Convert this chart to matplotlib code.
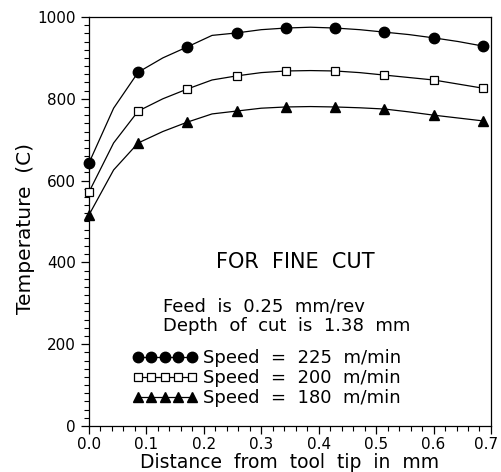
import matplotlib.pyplot as plt
from matplotlib.ticker import MultipleLocator

# marker positions (mm) and temperatures (C)
dist = [0.0, 0.0857, 0.1714, 0.2571, 0.3429, 0.4286, 0.5143, 0.6, 0.6857]
temp_225 = [643, 865, 927, 961, 973, 973, 963, 949, 929]
temp_200 = [572, 770, 824, 856, 868, 868, 858, 846, 826]
temp_180 = [516, 692, 743, 770, 780, 780, 775, 760, 746]

# curve vertices (read at half steps between markers)
dist_line = [0.0, 0.0429, 0.0857, 0.1286, 0.1714, 0.2143, 0.2571, 0.3, 0.3429,
             0.3857, 0.4286, 0.4714, 0.5143, 0.5571, 0.6, 0.6429, 0.6857]
line_225 = [643, 777, 865, 900, 927, 955, 961, 969, 973, 975, 973, 969, 963, 957, 949, 940, 929]
line_200 = [572, 692, 770, 800, 824, 846, 856, 864, 868, 869, 868, 864, 858, 852, 846, 836, 826]
line_180 = [516, 626, 692, 720, 743, 763, 770, 777, 780, 781, 780, 778, 775, 768, 760, 753, 746]

labels = ["Speed  =  225  m/min", "Speed  =  200  m/min", "Speed  =  180  m/min"]
x_max = 0.7

plt.rcParams['font.family'] = ['DejaVu Sans']

fig = plt.figure(figsize=(5.01, 4.72), dpi=100)
ax = fig.add_axes([0.1776, 0.0975, 0.8024, 0.8665])

series = [
    (temp_225, line_225, dict(marker='o', mfc='black', mec='black', ms=7.5)),
    (temp_200, line_200, dict(marker='s', mfc='white', mec='black', ms=6, mew=0.9)),
    (temp_180, line_180, dict(marker='^', mfc='black', mec='black', ms=7.5)),
]

handles = []
for temps, line, style in series:
    ax.plot(dist_line, line, color='black', lw=0.9)
    ax.plot(dist, temps, linestyle='none', clip_on=False, zorder=3, **style)
    h, = ax.plot([], [], color='black', lw=0.9, **style)
    handles.append(h)

ax.set_xlim(0, x_max)
ax.set_ylim(0, 1000)
ax.xaxis.set_major_locator(MultipleLocator(0.1))
ax.xaxis.set_minor_locator(MultipleLocator(0.02))
ax.yaxis.set_major_locator(MultipleLocator(200))
ax.yaxis.set_minor_locator(MultipleLocator(20))
# last label is drawn separately, pulled in a little so it fits the picture
ax.xaxis.set_major_formatter(lambda v, p: "" if abs(v - x_max) < 1e-6 else f"{v:.1f}")
ax.tick_params(which='major', length=6, width=0.9, direction='out', labelsize=11)
ax.tick_params(which='minor', length=3.5, width=0.8, direction='out')
ax.tick_params(axis='x', pad=2)
for s in ax.spines.values():
    s.set_linewidth(0.9)

ax.annotate(f"{x_max:.1f}", xy=(x_max, 0), xycoords=ax.get_xaxis_transform(),
            xytext=(-3.5, -8), textcoords='offset points',
            ha='center', va='top', fontsize=11, annotation_clip=False)

ax.set_xlabel("Distance  from  tool  tip  in  mm", fontsize=13.5, labelpad=1)
ax.set_ylabel("Temperature  (C)", fontsize=14.5)
ax.yaxis.set_label_coords(-0.159, 0.484)
ax.yaxis.label.set_va('center')

ax.text(0.359, 401, "FOR  FINE  CUT", fontsize=15, ha='center', va='center')
ax.text(0.129, 293, "Feed  is  0.25  mm/rev", fontsize=13, ha='left', va='center')
ax.text(0.129, 245, "Depth  of  cut  is  1.38  mm", fontsize=13, ha='left', va='center')

ax.legend(handles, labels, numpoints=5, handlelength=3.6, handletextpad=0.3,
          labelspacing=0.1, fontsize=13, frameon=False,
          loc='upper left', bbox_to_anchor=(0.09, 0.205), borderaxespad=0)

fig.savefig("out.png", dpi=100)
